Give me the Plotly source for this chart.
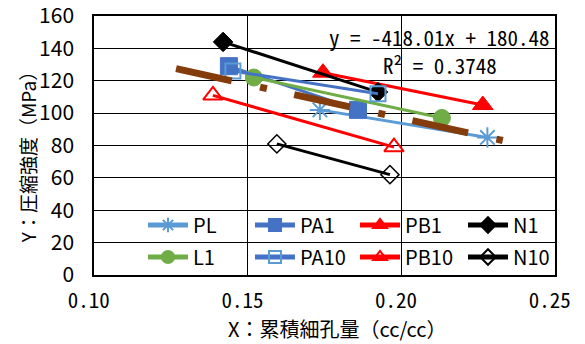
import plotly.graph_objects as go

# ---- data ----
series_names = ["PL", "PA1", "PB1", "N1", "L1", "PA10", "PB10", "N10"]
pl_x = [0.1735, 0.2280]
pl_y = [102, 85]
pa1_x = [0.1439, 0.1859]
pa1_y = [129, 102]
pb1_x = [0.1745, 0.2265]
pb1_y = [125, 105]
n1_x = [0.1420, 0.1924]
n1_y = [144, 113]
l1_x = [0.1520, 0.2132]
l1_y = [122, 97]
pa10_x = [0.1452, 0.1924]
pa10_y = [126, 112]
pb10_x = [0.1387, 0.1976]
pb10_y = [111, 79]
n10_x = [0.1595, 0.1963]
n10_y = [81, 62]

trend_slope = -418.01
trend_intercept = 180.48
trend_r2 = 0.3748
trend_x_range = [0.1267, 0.2330]

x_ticks = [0.10, 0.15, 0.20, 0.25]
y_ticks = [0, 20, 40, 60, 80, 100, 120, 140, 160]

SANS = "Noto Sans CJK JP, Liberation Sans, sans-serif"
MONO = "Noto Sans Mono CJK JP, DejaVu Sans Mono, monospace"
CJK = "Noto Sans CJK JP, sans-serif"

fig = go.Figure()

styles = {
    "PL":   dict(x=pl_x, y=pl_y, color="#5B9BD5", symbol="asterisk-open", size=17, mcolor="#5B9BD5", lw=2),
    "PA1":  dict(x=pa1_x, y=pa1_y, color="#4472C4", symbol="square", size=17, mcolor="#4472C4", lw=1),
    "PB1":  dict(x=pb1_x, y=pb1_y, color="#FF0000", symbol="triangle-up", size=18, mcolor="#FF0000", lw=1),
    "N1":   dict(x=n1_x, y=n1_y, color="#000000", symbol="diamond", size=15, mcolor="#000000", lw=1),
    "L1":   dict(x=l1_x, y=l1_y, color="#70AD47", symbol="circle", size=17, mcolor="#70AD47", lw=1),
    "PA10": dict(x=pa10_x, y=pa10_y, color="#4472C4", symbol="square-open", size=15, mcolor="#5B9BD5", lw=2),
    "PB10": dict(x=pb10_x, y=pb10_y, color="#FF0000", symbol="triangle-up-open", size=17, mcolor="#FF0000", lw=2),
    "N10":  dict(x=n10_x, y=n10_y, color="#000000", symbol="diamond-open", size=14, mcolor="#000000", lw=1.5),
}

# one small legend per entry -> 2 rows x 4 columns inside the plot
legend_cols = [0.1063, 0.3384, 0.5662, 0.8004]
legend_rows = [0.193, 0.0695]
legend_layouts = {}
for i, name in enumerate(series_names):
    key = "legend" if i == 0 else "legend%d" % (i + 1)
    legend_layouts[key] = dict(
        x=legend_cols[i % 4], y=legend_rows[i // 4], xref="paper", yref="paper",
        xanchor="left", yanchor="middle", orientation="h",
        bgcolor="rgba(0,0,0,0)", font=dict(family=SANS, size=20),
        itemwidth=40, itemsizing="constant")
    s = styles[name]
    fig.add_trace(go.Scatter(
        x=s["x"], y=s["y"], name=name, mode="lines+markers",
        line=dict(color=s["color"], width=3),
        marker=dict(symbol=s["symbol"], size=s["size"], color=s["mcolor"],
                    line=dict(color=s["mcolor"], width=s["lw"])),
        legend=key,
    ))

# linear trendline (long dash-dot)
tx = trend_x_range
ty = [trend_slope * v + trend_intercept for v in tx]
fig.add_trace(go.Scatter(
    x=tx, y=ty, mode="lines", showlegend=False, hoverinfo="skip",
    line=dict(color="#843C0C", width=7, dash="57px,29px,7px,28px"),
))

ann_font = dict(family=MONO, size=21, color="black")
fig.add_annotation(xref="paper", yref="y", x=0.7505, y=147,
                   text="y = -418.01x + 180.48", showarrow=False, borderpad=0,
                   font=ann_font, xanchor="center", yanchor="middle")
fig.add_annotation(xref="paper", yref="y", x=0.7505, y=129.5,
                   text="R² = 0.3748", showarrow=False, borderpad=0,
                   font=ann_font, xanchor="center", yanchor="middle")

# axis titles
fig.add_annotation(xref="paper", yref="paper", x=0.527, y=-0.205,
                   text="X：累積細孔量（cc/cc）", showarrow=False,
                   font=dict(family=CJK, size=20, color="black"), xanchor="center", yanchor="middle")
fig.add_annotation(xref="paper", yref="paper", x=-0.145, y=0.471, textangle=-90,
                   text="Y：圧縮強度（MPa）", showarrow=False,
                   font=dict(family=CJK, size=19, color="black"), xanchor="center", yanchor="middle")

fig.update_layout(
    width=585, height=344,
    margin=dict(l=94, r=30, t=16, b=69),
    plot_bgcolor="white", paper_bgcolor="white",
    font=dict(family=SANS, size=20, color="black"),
    xaxis=dict(range=[0.10, 0.25], tickvals=x_ticks,
               ticktext=["%.2f\u00a0" % v for v in x_ticks],
               tickfont=dict(family=MONO, size=21),
               showgrid=True, gridcolor="black", gridwidth=1.3,
               showline=True, linecolor="black", linewidth=1.5, mirror=True,
               zeroline=False, ticks="", ticklabelstandoff=6, automargin=False,
               ticklabeloverflow="allow"),
    yaxis=dict(range=[0, 160], tickvals=y_ticks,
               tickfont=dict(family=SANS, size=21),
               showgrid=True, gridcolor="black", gridwidth=1.3,
               showline=True, linecolor="black", linewidth=1.5, mirror=True,
               zeroline=False, ticks="", ticklabelstandoff=14, automargin=False,
               ticklabeloverflow="allow"),
    **legend_layouts,
)

fig.write_html("out.html", config={"displayModeBar": False},
               post_script="document.body.style.margin='0';document.body.style.overflow='hidden';")
